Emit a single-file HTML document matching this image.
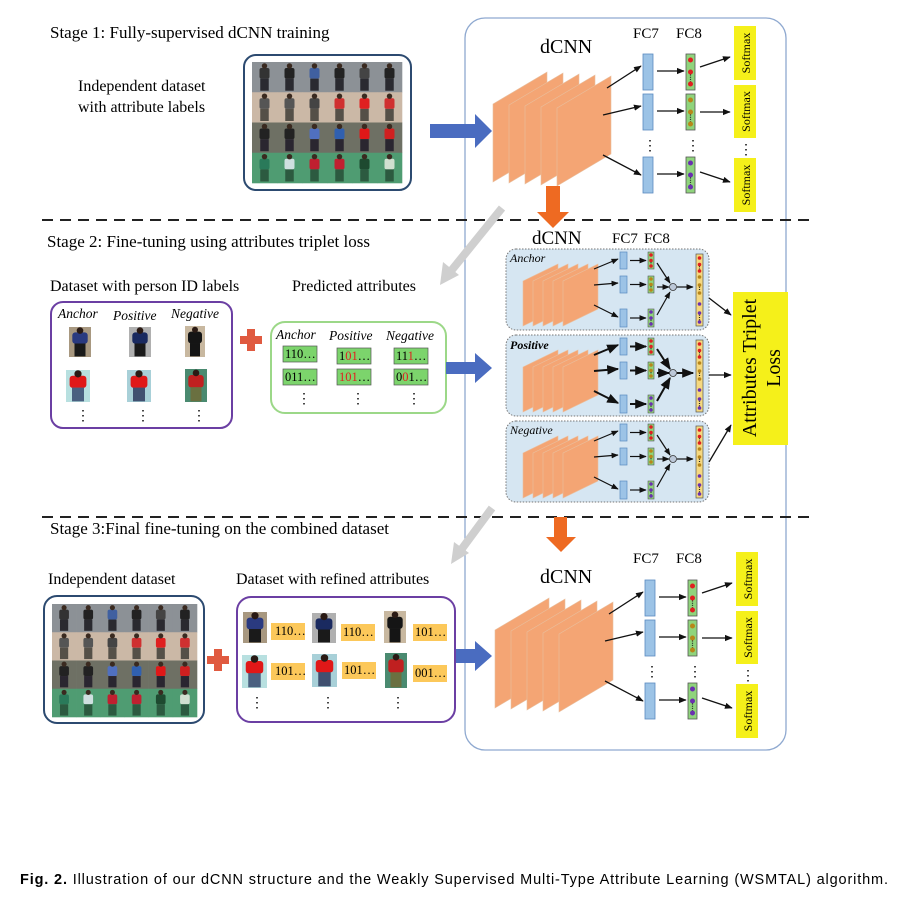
<!DOCTYPE html>
<html><head><meta charset="utf-8">
<style>
html,body{margin:0;padding:0;background:#fff;}
svg{display:block;font-family:"Liberation Serif",serif;}
.s{font-family:"Liberation Sans",sans-serif;}
</style></head>
<body>
<svg id="svg" width="912" height="905" viewBox="0 0 912 905" xmlns="http://www.w3.org/2000/svg">
<defs>
<marker id="ah" viewBox="0 0 10 10" refX="9" refY="5" markerWidth="6" markerHeight="6" orient="auto"><path d="M0,1 L10,5 L0,9 z" fill="#111"/></marker>
</defs>
<rect x="465" y="18" width="321" height="732" rx="20" fill="none" stroke="#8fa9d0" stroke-width="1.3"/>
<line x1="42" y1="220" x2="812" y2="220" stroke="#222" stroke-width="2" stroke-dasharray="11,7"/>
<line x1="42" y1="517" x2="812" y2="517" stroke="#222" stroke-width="2" stroke-dasharray="11,7"/>

<text x="50" y="38" font-size="17">Stage 1: Fully-supervised dCNN training</text>
<text x="78" y="91" font-size="16">Independent dataset</text>
<text x="78" y="112" font-size="16">with attribute labels</text>
<rect x="244" y="55" width="167" height="135" rx="12" fill="#fff" stroke="#2c4a70" stroke-width="2"/>
<g id="grid1"></g>
<path d="M430,124 H475 V114 L492,131 L475,148 V138 H430 z" fill="#4a6cc0"/>

<g id="net1"></g>
<text x="540" y="53" font-size="20">dCNN</text>
<text x="633" y="38" font-size="15">FC7</text>
<text x="676" y="38" font-size="15">FC8</text>

<path d="M546,186 H560 V212 H569 L553,228 L537,212 H546 z" fill="#ee6a22"/>
<path d="M502,208 L451,271" stroke="#cfcfcf" stroke-width="8"/>
<path d="M440,285 L443,262 L459,275 z" fill="#cfcfcf"/>

<text x="47" y="247" font-size="17">Stage 2: Fine-tuning using attributes triplet loss</text>
<text x="50" y="291" font-size="16">Dataset with person ID labels</text>
<text x="292" y="291" font-size="16">Predicted attributes</text>
<rect x="51" y="302" width="181" height="126" rx="12" fill="#fff" stroke="#6b3fa3" stroke-width="2"/>
<text x="58" y="318" font-size="13.5" font-style="italic">Anchor</text>
<text x="113" y="320" font-size="13.5" font-style="italic">Positive</text>
<text x="171" y="318" font-size="13.5" font-style="italic">Negative</text>
<g id="ppl2"></g>
<text x="76" y="420" font-size="14">⋮</text><text x="136" y="420" font-size="14">⋮</text><text x="192" y="420" font-size="14">⋮</text>
<path d="M240,336 H247 V329 H255 V336 H262 V344 H255 V351 H247 V344 H240 z" fill="#e05a40"/>
<rect x="271" y="322" width="175" height="91" rx="14" fill="#fff" stroke="#9cd888" stroke-width="2"/>
<text x="276" y="339" font-size="13.5" font-style="italic">Anchor</text>
<text x="329" y="340" font-size="13.5" font-style="italic">Positive</text>
<text x="386" y="340" font-size="13.5" font-style="italic">Negative</text>
<g font-size="12.5">
<rect x="283" y="346" width="34" height="16" fill="#7cd46c" stroke="#555" stroke-width=".7"/><text x="285" y="358">110…</text>
<rect x="337" y="348" width="34" height="16" fill="#7cd46c" stroke="#555" stroke-width=".7"/><text x="339" y="360">1<tspan fill="#e02020">01</tspan>…</text>
<rect x="394" y="348" width="34" height="16" fill="#7cd46c" stroke="#555" stroke-width=".7"/><text x="396" y="360">11<tspan fill="#e02020">1</tspan>…</text>
<rect x="283" y="369" width="34" height="16" fill="#7cd46c" stroke="#555" stroke-width=".7"/><text x="285" y="381">011…</text>
<rect x="337" y="369" width="34" height="16" fill="#7cd46c" stroke="#555" stroke-width=".7"/><text x="339" y="381"><tspan fill="#e02020">101</tspan>…</text>
<rect x="394" y="369" width="34" height="16" fill="#7cd46c" stroke="#555" stroke-width=".7"/><text x="396" y="381">0<tspan fill="#e02020">0</tspan>1…</text>
</g>
<text x="297" y="403" font-size="14">⋮</text><text x="351" y="403" font-size="14">⋮</text><text x="407" y="403" font-size="14">⋮</text>
<path d="M446,362 H475 V353 L492,368 L475,383 V374 H446 z" fill="#4a6cc0"/>

<text x="532" y="244" font-size="19">dCNN</text>
<text x="612" y="243" font-size="15">FC7</text><text x="644" y="243" font-size="15">FC8</text>
<g id="trip"></g>
<rect x="733" y="292" width="55" height="153" fill="#f5f01a"/>
<text transform="translate(756,368) rotate(-90)" text-anchor="middle" font-size="20">Attributes Triplet</text>
<text transform="translate(780,368) rotate(-90)" text-anchor="middle" font-size="20">Loss</text>
<line x1="709" y1="298" x2="731" y2="315" stroke="#111" stroke-width="1.3" marker-end="url(#ah)"/>
<line x1="709" y1="375" x2="731" y2="375" stroke="#111" stroke-width="1.3" marker-end="url(#ah)"/>
<line x1="709" y1="462" x2="731" y2="425" stroke="#111" stroke-width="1.3" marker-end="url(#ah)"/>

<path d="M554,517 H567 V537 H576 L561,552 L546,537 H554 z" fill="#ee6a22"/>
<path d="M492,508 L461,550" stroke="#cfcfcf" stroke-width="8"/>
<path d="M451,564 L454,542 L469,553 z" fill="#cfcfcf"/>

<text x="50" y="534" font-size="17">Stage 3:Final fine-tuning on the combined dataset</text>
<text x="48" y="584" font-size="16">Independent dataset</text>
<text x="236" y="584" font-size="16">Dataset with refined attributes</text>
<rect x="44" y="596" width="160" height="127" rx="13" fill="#fff" stroke="#2c4a70" stroke-width="2"/>
<g id="grid3"></g>
<path d="M207,656 H214 V649 H222 V656 H229 V664 H222 V671 H214 V664 H207 z" fill="#e05a40"/>
<rect x="237" y="597" width="218" height="125" rx="14" fill="#fff" stroke="#6b3fa3" stroke-width="2"/>
<g id="ppl3"></g>
<g font-size="12.5">
<rect x="271" y="623" width="34" height="17" fill="#fcc85a"/><text x="275" y="635">110…</text>
<rect x="341" y="624" width="34" height="17" fill="#fcc85a"/><text x="343" y="636">110…</text>
<rect x="413" y="624" width="34" height="17" fill="#fcc85a"/><text x="415" y="636">101…</text>
<rect x="271" y="663" width="34" height="17" fill="#fcc85a"/><text x="275" y="675">101…</text>
<rect x="342" y="662" width="34" height="17" fill="#fcc85a"/><text x="344" y="674">101…</text>
<rect x="413" y="665" width="34" height="17" fill="#fcc85a"/><text x="415" y="677">001…</text>
</g>
<text x="250" y="707" font-size="14">⋮</text><text x="321" y="707" font-size="14">⋮</text><text x="391" y="707" font-size="14">⋮</text>
<path d="M456,649 H475 V641 L492,656 L475,671 V663 H456 z" fill="#4a6cc0"/>

<g id="net3" transform="translate(2,526)"></g>
<text x="540" y="583" font-size="20">dCNN</text>
<text x="633" y="563" font-size="15">FC7</text>
<text x="676" y="563" font-size="15">FC8</text>

<text x="20" y="884" font-size="14.5" class="s" textLength="868" lengthAdjust="spacing"><tspan font-weight="bold">Fig. 2.</tspan>  Illustration of our dCNN structure and the Weakly Supervised Multi-Type Attribute Learning (WSMTAL) algorithm.</text>
</svg>
<script>
var NS="http://www.w3.org/2000/svg";
function el(p,t,a){var e=document.createElementNS(NS,t);for(var k in a)e.setAttribute(k,a[k]);p.appendChild(e);return e;}
function g(id){return document.getElementById(id);}
var rows=[["#8c9196","#2a2a30"],["#cbb8a6","#555048"],["#6e7064","#2a2630"],["#4f9c72","#2c5a40"]];
var shirts=[["#333","#222","#4060a0","#222","#444","#222"],["#555","#555","#444","#d03030","#e02020","#d03030"],["#222","#222","#5070c0","#3060b0","#e01818","#d02020"],["#2a7a5a","#cfe0e0","#c02030","#c02030","#1e4a30","#d0e0d0"]];
function grid(p,x0,y0,w,h){var cw=w/6,ch=h/4;for(var r=0;r<4;r++)for(var c=0;c<6;c++){var x=x0+c*cw,y=y0+r*ch;el(p,"rect",{x:x,y:y,width:cw+.3,height:ch+.3,fill:rows[r][0]});
el(p,"rect",{x:x+cw*0.3,y:y+ch*0.2,width:cw*0.4,height:ch*0.35,fill:shirts[r][c],rx:2});
el(p,"rect",{x:x+cw*0.33,y:y+ch*0.55,width:cw*0.34,height:ch*0.4,fill:rows[r][1]});
el(p,"circle",{cx:x+cw*0.5,cy:y+ch*0.13,r:ch*0.09,fill:"#3a2a20"});}}
grid(g("grid1"),252,62,150,121);
grid(g("grid3"),52,604,145,113);
function person(p,x,y,w,h,top,bg,leg){el(p,"rect",{x:x,y:y,width:w,height:h,fill:bg});el(p,"rect",{x:x+w*.15,y:y+h*.18,width:w*.7,height:h*.38,fill:top,rx:3});el(p,"rect",{x:x+w*.25,y:y+h*.55,width:w*.5,height:h*.43,fill:leg});el(p,"circle",{cx:x+w*.5,cy:y+h*.12,r:w*.15,fill:"#2a1a14"});}
var p2=g("ppl2");
person(p2,69,327,22,30,"#2a3a80","#a89880","#1a1a1a");person(p2,129,327,22,30,"#1a2a60","#b0b0b0","#1a1a1a");person(p2,185,326,20,31,"#151515","#c8b8a0","#151515");
person(p2,66,370,24,32,"#e01818","#b8e0e0","#4a6080");person(p2,127,370,24,32,"#e01818","#a8d0d8","#405070");person(p2,185,369,22,33,"#c02020","#4a8a70","#6a7040");
var p3=g("ppl3");
person(p3,243,612,24,31,"#2a3a80","#a89880","#1a1a1a");person(p3,312,613,24,30,"#1a2a60","#b0b0b0","#1a1a1a");person(p3,384,611,22,32,"#151515","#c8b8a0","#151515");
person(p3,242,655,25,33,"#e01818","#b8e0e0","#4a6080");person(p3,312,654,25,33,"#e01818","#a8d0d8","#405070");person(p3,385,653,22,35,"#c02020","#4a8a70","#6a7040");
function planes(p,x0,y0,w,h,sk,n,dx,dy){for(var i=0;i<n;i++){var x=x0+i*dx,y=y0+i*dy;el(p,"path",{d:"M"+x+","+y+" L"+(x+w)+","+(y-sk)+" L"+(x+w)+","+(y-sk+h)+" L"+x+","+(y+h)+"z",fill:"#f4a574",stroke:"#e8c0a0","stroke-width":0.6});}}
function arr(p,x1,y1,x2,y2,sw){el(p,"line",{x1:x1,y1:y1,x2:x2,y2:y2,stroke:"#111","stroke-width":sw||1.3,"marker-end":"url(#ah)"});}
function dots(p,x,y1,y2,col,r){el(p,"circle",{cx:x,cy:y1,r:r,fill:col});el(p,"circle",{cx:x,cy:(y1+y2)/2,r:r,fill:col});el(p,"circle",{cx:x,cy:y2,r:r,fill:col});el(p,"line",{x1:x,y1:(y1+y2)/2+r,x2:x,y2:y2-r,stroke:"#222","stroke-width":1.2,"stroke-dasharray":"1,1.2"});}
function net(p){planes(p,493,104,54,78,32,5,16,1);
var fc=[[54,90,"#e02020"],[94,130,"#b8861a"],[157,193,"#6a30b0"]];
var src=[[607,88],[603,115],[603,155]];
var sm=[[26,80],[85,138],[158,212]];
for(var i=0;i<3;i++){var a=fc[i][0],b=fc[i][1];el(p,"rect",{x:643,y:a,width:10,height:b-a,fill:"#9cc3e6",stroke:"#5a8ac0","stroke-width":.8});
el(p,"rect",{x:686,y:a,width:9,height:b-a,fill:"#8fd47c",stroke:"#555","stroke-width":.8});
dots(p,690.5,a+6,b-6,fc[i][2],2.5);
arr(p,src[i][0],src[i][1],641,i==0?66:(i==1?106:175));arr(p,657,(a+b)/2-1,684,(a+b)/2-1);
arr(p,700,i==0?67:(i==1?112:172),730,i==0?57:(i==1?112:182));
el(p,"rect",{x:734,y:sm[i][0],width:22,height:sm[i][1]-sm[i][0],fill:"#f5f01a"});
var t=el(p,"text",{transform:"translate(750,"+((sm[i][0]+sm[i][1])/2)+") rotate(-90)","text-anchor":"middle","font-size":"12"});t.textContent="Softmax";}
var t1=el(p,"text",{x:643,y:150,"font-size":"14"});t1.textContent="⋮";var t2=el(p,"text",{x:686,y:150,"font-size":"14"});t2.textContent="⋮";var t3=el(p,"text",{x:739,y:154,"font-size":"14"});t3.textContent="⋮";}
net(g("net1"));net(g("net3"));
function trip(p,ox,oy,lab,bold){var q=el(p,"g",{transform:"translate("+ox+","+oy+")"});
el(q,"rect",{x:0,y:0,width:203,height:81,rx:10,fill:"#d6e6f2",stroke:"#777","stroke-width":1,"stroke-dasharray":"1.5,1.5"});
var t=el(q,"text",{x:4,y:bold?14:13,"font-size":"12","font-style":"italic","font-weight":bold?"bold":"normal"});t.textContent=lab;
planes(q,17,32,35,45,17,5,10,0);
var fy=[[3,20,"#e02020"],[27,44,"#b8861a"],[60,78,"#6a30b0"]];
for(var i=0;i<3;i++){var a=fy[i][0],b=fy[i][1];el(q,"rect",{x:114,y:a,width:7,height:b-a,fill:"#9cc3e6",stroke:"#5a8ac0","stroke-width":.7});
el(q,"rect",{x:142,y:a,width:6,height:b-a,fill:"#8fd47c",stroke:"#555","stroke-width":.6});dots(q,145,a+3,b-3,fy[i][2],1.8);
arr(q,88,i==0?20:(i==1?36:56),112,i==0?10:(i==1?34:68),bold?2:1.2);arr(q,124,(a+b)/2,140,(a+b)/2,bold?2:1.2);}
arr(q,151,14,164,34,bold?2:1.2);arr(q,151,38,163,38,bold?2:1.2);arr(q,151,66,164,43,bold?2:1.2);
el(q,"circle",{cx:167,cy:38,r:3.5,fill:"#bcc8d8",stroke:"#333","stroke-width":.8});arr(q,171,38,187,38,bold?2:1.2);
el(q,"rect",{x:190,y:5,width:7,height:72,fill:"#f5d880",stroke:"#555","stroke-width":.7});
dots(q,193.5,9,22,"#e02020",1.8);dots(q,193.5,28,44,"#b8861a",1.8);dots(q,193.5,55,73,"#6a30b0",1.8);}
var tp=g("trip");trip(tp,506,249,"Anchor",0);trip(tp,506,335,"Positive",1);trip(tp,506,421,"Negative",0);
</script>
</body></html>
